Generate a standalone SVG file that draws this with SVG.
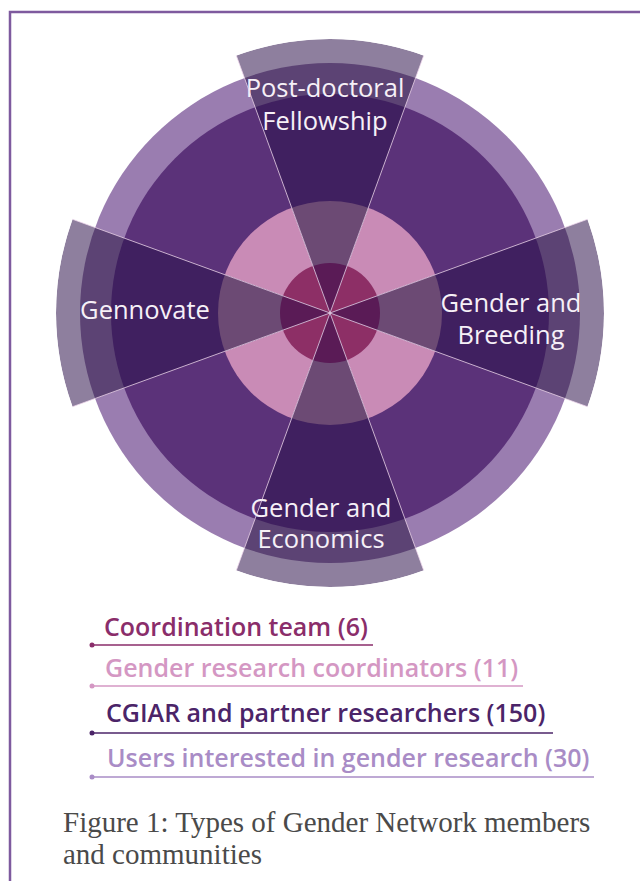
<svg xmlns="http://www.w3.org/2000/svg" width="640" height="881" viewBox="0 0 640 881">
<style>
.lbl{font-family:"Open Sans","Noto Sans","Liberation Sans",sans-serif;font-size:25.5px;fill:#f6f0f7;text-anchor:middle}
.leg{font-family:"Open Sans","Noto Sans","Liberation Sans",sans-serif;font-size:25px;font-weight:600}
.cap{font-family:"Liberation Serif","DejaVu Serif",serif;font-size:29px;fill:#4a4a4a}
.spoke{stroke:#f0d8ee;stroke-width:1;stroke-opacity:0.75}
.wb{fill:#8e7f9e}.w4{fill:#5c4374}.w3{fill:#402060}.w2{fill:#6c4a74}.w1{fill:#5a1b56}
</style>
<defs>
<clipPath id="cTop"><path d="M330,313 L236.29,55.53 A274,274 0 0 1 423.71,55.53 Z"/></clipPath>
<clipPath id="cRight"><path d="M330,313 L587.47,219.29 A274,274 0 0 1 587.47,406.71 Z"/></clipPath>
<clipPath id="cBottom"><path d="M330,313 L423.71,570.47 A274,274 0 0 1 236.29,570.47 Z"/></clipPath>
<clipPath id="cLeft"><path d="M330,313 L72.53,406.71 A274,274 0 0 1 72.53,219.29 Z"/></clipPath>
<g id="wedgeFill">
<circle cx="330" cy="313" r="274" class="wb"/>
<circle cx="330" cy="313" r="250" class="w4"/>
<circle cx="330" cy="313" r="219" class="w3"/>
<circle cx="330" cy="313" r="112" class="w2"/>
<circle cx="330" cy="313" r="50" class="w1"/>
</g>
</defs>
<rect width="640" height="881" fill="#ffffff"/>
<g id="frame" fill="none" stroke="#7e5a9e" stroke-width="2.5">
<path d="M10,881 L10,12 L640,12"/>
</g>
<g id="rings">
<circle id="ring-users" cx="330" cy="313" r="250" fill="#9a7db0"/>
<circle id="ring-cgiar" cx="330" cy="313" r="219" fill="#5b3279"/>
<circle id="ring-gender-coord" cx="330" cy="313" r="112" fill="#c98bb6"/>
<circle id="ring-coord-team" cx="330" cy="313" r="50" fill="#8d2f66"/>
</g>
<g id="node-postdoc">
<use href="#wedgeFill" clip-path="url(#cTop)"/>
<text class="lbl" x="325" y="97">Post-doctoral</text>
<text class="lbl" x="325" y="130">Fellowship</text>
</g>
<g id="node-breeding">
<use href="#wedgeFill" clip-path="url(#cRight)"/>
<text class="lbl" x="511" y="312">Gender and</text>
<text class="lbl" x="511" y="344">Breeding</text>
</g>
<g id="node-economics">
<use href="#wedgeFill" clip-path="url(#cBottom)"/>
<text class="lbl" x="321" y="517">Gender and</text>
<text class="lbl" x="321" y="548">Economics</text>
</g>
<g id="node-gennovate">
<use href="#wedgeFill" clip-path="url(#cLeft)"/>
<text class="lbl" x="145" y="319">Gennovate</text>
</g>
<g id="connectors" class="spoke">
<line x1="330" y1="313" x2="236.29" y2="55.53"/>
<line x1="330" y1="313" x2="423.71" y2="55.53"/>
<line x1="330" y1="313" x2="587.47" y2="219.29"/>
<line x1="330" y1="313" x2="587.47" y2="406.71"/>
<line x1="330" y1="313" x2="423.71" y2="570.47"/>
<line x1="330" y1="313" x2="236.29" y2="570.47"/>
<line x1="330" y1="313" x2="72.53" y2="406.71"/>
<line x1="330" y1="313" x2="72.53" y2="219.29"/>
</g>
<g id="legend">
<g id="leg-coord" fill="#8a2d6a" stroke="#8a2d6a">
<text class="leg" x="104" y="636" stroke="none">Coordination team (6)</text>
<line x1="92" y1="645" x2="373" y2="645" stroke-width="1.5"/>
<circle cx="92" cy="645" r="2.5" stroke="none"/>
</g>
<g id="leg-gender" fill="#d497c3" stroke="#d497c3">
<text class="leg" x="105" y="677" stroke="none">Gender research coordinators (11)</text>
<line x1="92" y1="686" x2="523" y2="686" stroke-width="1.5"/>
<circle cx="92" cy="686" r="2.5" stroke="none"/>
</g>
<g id="leg-cgiar" fill="#4b2468" stroke="#4b2468">
<text class="leg" x="106" y="722" stroke="none">CGIAR and partner researchers (150)</text>
<line x1="92" y1="733" x2="553" y2="733" stroke-width="1.5"/>
<circle cx="92" cy="733" r="2.5" stroke="none"/>
</g>
<g id="leg-users" fill="#a98cc6" stroke="#a98cc6">
<text class="leg" x="107" y="767" stroke="none">Users interested in gender research (30)</text>
<line x1="92" y1="777" x2="594" y2="777" stroke-width="1.5"/>
<circle cx="92" cy="777" r="2.5" stroke="none"/>
</g>
</g>
<g id="caption">
<text class="cap" x="63" y="832">Figure 1: Types of Gender Network members</text>
<text class="cap" x="63" y="864">and communities</text>
</g>
</svg>
